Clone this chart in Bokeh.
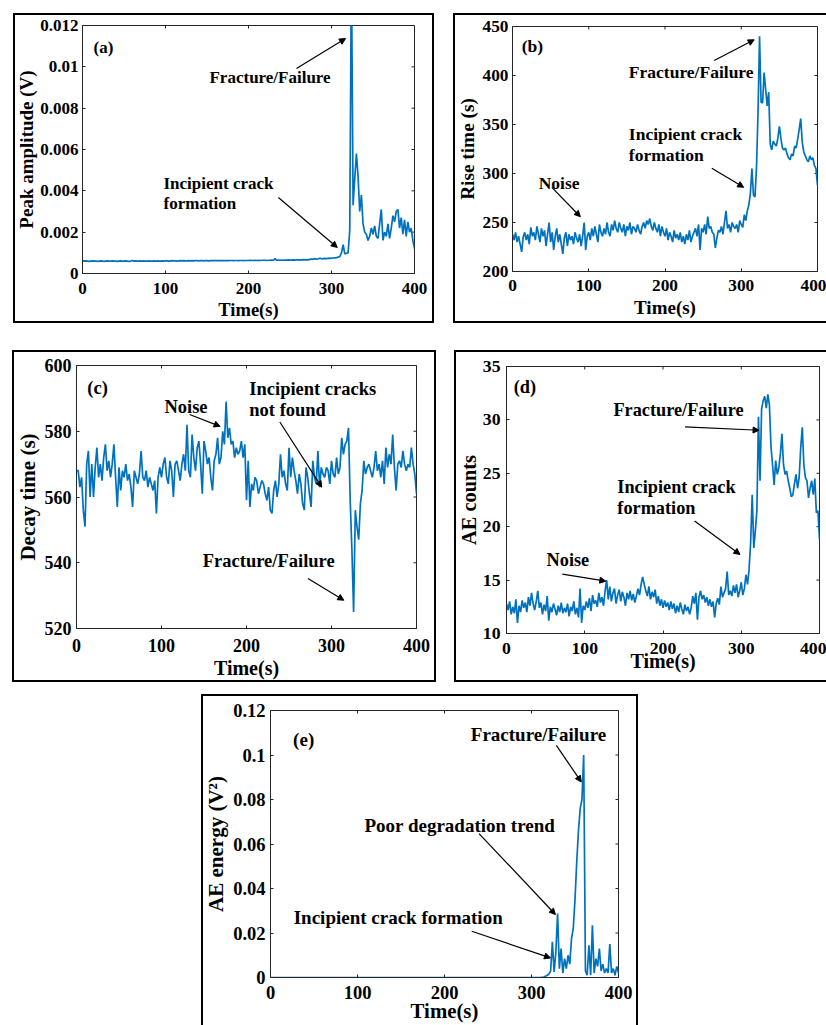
import math
from bokeh.plotting import figure
from bokeh.models import (Range1d, FixedTicker, Label, Arrow, NormalHead, Spacer,
                          PrintfTickFormatter)
from bokeh.layouts import row, column
from bokeh.embed import file_html
from bokeh.resources import INLINE

FONT = "Liberation Serif"
BLUE = "#0072BD"
AXC = "#262626"

# ---------------- data (2 s sampling) ----------------
time_s = list(range(0, 401, 2))

peak_amplitude = [
    0.00062, 0.00060, 0.00061, 0.00060, 0.00059, 0.00060, 0.00061, 0.00060, 0.00060, 0.00059,
    0.00060, 0.00061, 0.00060, 0.00059, 0.00060, 0.00061, 0.00060, 0.00060, 0.00061, 0.00060,
    0.00060, 0.00059, 0.00060, 0.00061, 0.00060, 0.00060, 0.00061, 0.00060, 0.00059, 0.00060,
    0.00063, 0.00060, 0.00061, 0.00060, 0.00060, 0.00061, 0.00060, 0.00061, 0.00060, 0.00060,
    0.00061, 0.00060, 0.00060, 0.00061, 0.00060, 0.00061, 0.00060, 0.00060, 0.00061, 0.00060,
    0.00061, 0.00061, 0.00060, 0.00061, 0.00062, 0.00061, 0.00061, 0.00060, 0.00061, 0.00062,
    0.00061, 0.00062, 0.00061, 0.00061, 0.00062, 0.00061, 0.00062, 0.00061, 0.00062, 0.00062,
    0.00061, 0.00062, 0.00062, 0.00061, 0.00062, 0.00062, 0.00061, 0.00062, 0.00063, 0.00062,
    0.00062, 0.00062, 0.00063, 0.00062, 0.00062, 0.00063, 0.00062, 0.00063, 0.00062, 0.00063,
    0.00063, 0.00062, 0.00063, 0.00063, 0.00062, 0.00063, 0.00063, 0.00062, 0.00063, 0.00063,
    0.00063, 0.00064, 0.00063, 0.00063, 0.00064, 0.00063, 0.00064, 0.00063, 0.00064, 0.00064,
    0.00064, 0.00063, 0.00064, 0.00064, 0.00065, 0.00064, 0.00072, 0.00064, 0.00065, 0.00064,
    0.00065, 0.00064, 0.00065, 0.00065, 0.00066, 0.00065, 0.00065, 0.00066, 0.00065, 0.00066,
    0.00066, 0.00065, 0.00066, 0.00067, 0.00066, 0.00067, 0.00066, 0.00068, 0.00070, 0.00069,
    0.00072, 0.00070, 0.00071, 0.00074, 0.00071, 0.00072, 0.00073, 0.00072, 0.00074, 0.00073,
    0.00074, 0.00075, 0.00076, 0.00077, 0.00079, 0.00082, 0.00100, 0.00140, 0.00095, 0.00098,
    0.00100, 0.00210, 0.01500, 0.00330, 0.00460, 0.00580, 0.00470, 0.00300, 0.00380, 0.00240,
    0.00200, 0.00190, 0.00160, 0.00180, 0.00220, 0.00190, 0.00230, 0.00180, 0.00170, 0.00240,
    0.00310, 0.00160, 0.00200, 0.00180, 0.00240, 0.00170, 0.00220, 0.00280, 0.00250, 0.00300,
    0.00310, 0.00220, 0.00270, 0.00190, 0.00260, 0.00180, 0.00250, 0.00200, 0.00220, 0.00160,
    0.00120,
]

rise_time = [
    238, 232, 240, 230, 236, 228, 220, 235, 240, 232,
    238, 228, 245, 236, 240, 232, 246, 238, 230, 244,
    236, 242, 226, 238, 250, 230, 240, 222, 236, 244,
    230, 238, 228, 218, 234, 240, 226, 238, 232, 236,
    228, 240, 234, 230, 238, 226, 236, 250, 222, 236,
    240, 232, 244, 236, 246, 238, 230, 248, 240, 236,
    244, 238, 250, 240, 236, 248, 242, 252, 244, 240,
    250, 244, 240, 248, 236, 246, 242, 250, 238, 246,
    244, 240, 248, 242, 238, 246, 250, 244, 252, 248,
    254, 246, 242, 250, 244, 240, 248, 236, 246, 240,
    236, 244, 232, 240, 236, 230, 242, 234, 238, 232,
    240, 230, 236, 228, 238, 232, 242, 230, 236, 240,
    244, 236, 248, 222, 244, 240, 248, 238, 256, 244,
    246, 240, 238, 224, 234, 242, 240, 246, 238, 250,
    262, 244, 248, 240, 250, 246, 244, 248, 240, 252,
    248, 245, 258, 252, 262, 268, 280, 305, 278, 276,
    306, 362, 440, 373, 372, 403, 386, 369, 383, 330,
    324, 333, 330, 328, 336, 348, 336, 326, 324, 326,
    320, 316, 314, 320, 318, 328, 326, 335, 345, 356,
    332, 322, 318, 314, 312, 318, 314, 316, 308, 305,
    288,
]

decay_time = [
    568, 568, 563, 566, 556, 551, 570, 574, 560, 570,
    560, 569, 575, 566, 570, 565, 572, 576, 568, 571,
    566, 570, 576, 566, 557, 569, 562, 568, 566, 570,
    565, 567, 563, 557, 568, 566, 564, 567, 574, 566,
    565, 568, 563, 566, 564, 562, 565, 555, 566, 569,
    566, 570, 572, 566, 564, 571, 568, 560, 570, 571,
    568, 565, 570, 573, 568, 582, 568, 566, 579, 572,
    568, 575, 577, 570, 561, 577, 574, 570, 572, 566,
    562, 571, 573, 578, 570, 572, 580, 576, 589, 578,
    581, 576, 577, 572, 575, 573, 574, 577, 572, 576,
    559, 571, 557, 564, 562, 566, 565, 561, 563, 565,
    564, 561, 559, 563, 556, 555, 562, 565, 560, 564,
    573, 566, 568, 564, 562, 575, 566, 572, 568, 565,
    561, 567, 564, 558, 556, 569, 566, 561, 557, 571,
    566, 564, 574, 563, 569, 567, 566, 569, 568, 564,
    571, 567, 566, 572, 567, 569, 578, 573, 576, 577,
    581, 559, 544, 525, 556, 551, 547, 558, 562, 571,
    567, 569, 570, 568, 566, 569, 574, 568, 570, 566,
    571, 564, 575, 569, 573, 570, 579, 569, 562, 570,
    571, 569, 574, 570, 568, 570, 569, 575, 570, 567,
    561,
]

ae_counts = [
    12.8, 12.2, 13.0, 11.8, 12.5, 11.9, 13.2, 11.0, 12.6, 12.0,
    13.1, 12.4, 12.9, 12.0, 13.4, 12.6, 13.8, 12.8, 12.2, 13.0,
    14.0, 12.4, 12.9, 11.8, 12.7, 12.1, 13.5, 11.2, 12.5, 12.0,
    12.8, 12.3, 11.7, 12.6, 12.0, 12.9, 11.9, 12.4, 12.0, 12.8,
    11.6, 12.5, 12.1, 13.0, 11.8, 12.4, 11.5, 14.2, 11.0, 12.6,
    12.2, 13.0, 12.4, 13.3, 12.1, 13.6, 12.8, 13.1, 12.5, 13.8,
    12.9, 13.4, 12.6, 14.0, 15.0, 13.2, 14.4, 13.0, 13.8, 14.2,
    12.8, 13.6, 14.1, 13.0, 13.9, 13.4, 12.6, 13.8, 13.2, 14.0,
    13.1, 13.7, 12.9, 13.5, 14.2, 13.6, 14.6, 15.3, 14.6, 14.0,
    13.5, 14.4, 13.2, 13.9, 13.4, 14.1, 12.8, 13.5, 12.6, 13.2,
    12.4, 13.1, 12.5, 12.9, 12.2, 13.0, 12.3, 12.8, 11.9, 12.6,
    12.0, 12.9, 12.3, 11.8, 12.7, 12.1, 12.5, 11.8, 12.4, 13.5,
    12.8, 13.8, 11.3, 13.4, 14.0, 13.2, 13.6, 12.9, 13.4, 12.6,
    13.2, 12.5, 13.0, 11.5, 12.8, 13.3, 12.7, 14.4, 13.4, 13.8,
    14.2, 15.8, 13.6, 14.0, 13.5, 14.5, 13.8, 14.6, 13.4, 14.0,
    14.8, 13.6, 14.2, 15.5, 14.6, 16.0, 18.5, 23.0, 18.0, 19.6,
    21.5, 30.3, 24.3, 31.0, 31.8, 32.2, 31.1, 32.4, 31.4, 27.5,
    25.8, 23.9, 26.2, 24.9, 25.5, 26.8, 28.7, 25.8, 24.9, 25.2,
    24.3, 23.6, 22.8, 23.0, 24.0, 24.9, 23.6, 24.6, 27.4, 29.3,
    25.8, 24.6, 24.3, 22.7, 23.6, 24.3, 23.0, 24.5, 21.3, 21.5,
    18.8,
]

ae_energy = [
    0.0, 0.0, 0.0, 0.0, 0.0, 0.0, 0.0, 0.0, 0.0, 0.0,
    0.0, 0.0, 0.0, 0.0, 0.0, 0.0, 0.0, 0.0, 0.0, 0.0,
    0.0, 0.0, 0.0, 0.0, 0.0, 0.0, 0.0, 0.0, 0.0, 0.0,
    0.0, 0.0, 0.0, 0.0, 0.0, 0.0, 0.0, 0.0, 0.0, 0.0,
    0.0, 0.0, 0.0, 0.0, 0.0, 0.0, 0.0, 0.0, 0.0, 0.0,
    0.0, 0.0, 0.0, 0.0, 0.0, 0.0, 0.0, 0.0, 0.0, 0.0,
    0.0, 0.0, 0.0, 0.0, 0.0, 0.0, 0.0, 0.0, 0.0, 0.0,
    0.0, 0.0, 0.0, 0.0, 0.0, 0.0, 0.0, 0.0, 0.0, 0.0,
    0.0, 0.0, 0.0, 0.0, 0.0, 0.0, 0.0, 0.0, 0.0, 0.0,
    0.0, 0.0, 0.0, 0.0, 0.0, 0.0, 0.0, 0.0, 0.0, 0.0,
    0.0, 0.0, 0.0, 0.0, 0.0, 0.0, 0.0, 0.0, 0.0, 0.0,
    0.0, 0.0, 0.0, 0.0, 0.0, 0.0, 0.0, 0.0, 0.0, 0.0,
    0.0, 0.0, 0.0, 0.0, 0.0, 0.0, 0.0, 0.0, 0.0, 0.0,
    0.0, 0.0, 0.0, 0.0, 0.0, 0.0, 0.0, 0.0, 0.0, 0.0,
    0.0, 0.0, 0.0, 0.0, 0.0, 0.0, 0.0, 0.0, 0.0, 0.0,
    0.0, 0.0, 0.0, 0.0, 0.0, 0.0, 0.0001, 0.0002, 0.0005, 0.0010,
    0.0015, 0.0030, 0.0160, 0.0025, 0.0115, 0.0287, 0.0040, 0.0130, 0.0020, 0.0085,
    0.0040, 0.0100, 0.0060, 0.0175, 0.0220, 0.0350, 0.0520, 0.0660, 0.0760, 0.0800,
    0.1000, 0.0030, 0.0010, 0.0145, 0.0010, 0.0235, 0.0020, 0.0085, 0.0050, 0.0130,
    0.0030, 0.0060, 0.0020, 0.0040, 0.0020, 0.0150, 0.0020, 0.0040, 0.0010, 0.0050,
    0.0020,
]

x_ticks = [0, 100, 200, 300, 400]
a_ticks = [0, 0.002, 0.004, 0.006, 0.008, 0.01, 0.012]
b_ticks = [200, 250, 300, 350, 400, 450]
c_ticks = [520, 540, 560, 580, 600]
d_ticks = [10, 15, 20, 25, 30, 35]
e_ticks = [0, 0.02, 0.04, 0.06, 0.08, 0.1, 0.12]

SH_FULL = "inset 0 0 0 2px black"
SH_NO_RIGHT = "inset 2px 0 0 0 black, inset 0 2px 0 0 black, inset 0 -2px 0 0 black"
SH_NO_BOTTOM = "inset 2px 0 0 0 black, inset -2px 0 0 0 black, inset 0 2px 0 0 black"

panels = [
    dict(key="a", w=421, h=310, mb=(69, 20, 12, 50), yr=(0, 0.012), yt=a_ticks, y=peak_amplitude,
         ylabel="Peak amplitude (V)", fmt="%g", tick=17, xl=18.5, yl=19, ann=17,
         xstand=(9, 3), ystand=(4, 0), shadow=SH_FULL,
         tag=("(a)", 13.3, 0.01094),
         texts=[("Fracture/Failure", 153, 0.00948), ("Incipient crack", 97.6, 0.00435),
                ("formation", 97.6, 0.00339)],
         arrows=[(257.8, 0.00992, 316.9, 0.01137), (236, 0.00368, 307, 0.00126)]),
    dict(key="b", w=373, h=310, mb=(54, 9, 13, 52), yr=(200, 450), yt=b_ticks, y=rise_time,
         ylabel="Rise time (s)", fmt=None, tick=17.3, xl=19, yl=19.3, ann=17.5,
         xstand=(8, 3), ystand=(4, 2), shadow=SH_NO_RIGHT,
         tag=("(b)", 12, 429.8),
         texts=[("Fracture/Failure", 152.6, 403.3), ("Incipient crack", 152.6, 340.4),
                ("formation", 152.6, 319.3), ("Noise", 34.3, 290)],
         arrows=[(264.5, 415.3, 317, 436.4), (261.4, 305.3, 303.2, 285.9), (51.6, 285.9, 89, 255.9)]),
    dict(key="c", w=424, h=332, mb=(58, 20, 15, 54), yr=(520, 600), yt=c_ticks, y=decay_time,
         ylabel="Decay time (s)", fmt=None, tick=18, xl=20, yl=21, ann=18.5,
         xstand=(10, 2), ystand=(5, 2), shadow=SH_FULL,
         tag=("(c)", 12.7, 593.2),
         texts=[("Noise", 103.4, 587.3), ("Incipient cracks", 203.3, 592.9),
                ("not found", 203.3, 586.5), ("Fracture/Failure", 148.6, 540.5)],
         arrows=[(133.1, 585.1, 169, 581.5), (239.2, 582.8, 288.5, 563), (272.3, 535.2, 314.5, 528.6)]),
    dict(key="d", w=372, h=332, mb=(48, 7, 16, 49), yr=(10, 35), yt=d_ticks, y=ae_counts,
         ylabel="AE counts", fmt=None, tick=17.7, xl=20, yl=20.4, ann=18.3,
         xstand=(9, -7), ystand=(6, 0), shadow=SH_NO_RIGHT,
         tag=("(d)", 9.2, 33.06),
         texts=[("Fracture/Failure", 136.6, 30.9), ("Incipient crack", 141.6, 23.72),
                ("formation", 141.6, 21.72), ("Noise", 51.2, 16.88)],
         arrows=[(228.2, 29.34, 322.8, 29.03), (240.4, 20.53, 298.4, 17.4), (71.4, 15.56, 126.9, 14.9)]),
    dict(key="e", w=437, h=331, mb=(68, 20, 16, 48), yr=(0, 0.12), yt=e_ticks, y=ae_energy,
         ylabel="AE energy (V\u00b2)", fmt="%g", tick=18.5, xl=20.8, yl=21, ann=19,
         xstand=(8, -3), ystand=(5, 2), shadow=SH_NO_BOTTOM,
         tag=("(e)", 26, 0.107),
         texts=[("Fracture/Failure", 230.2, 0.1091), ("Poor degradation trend", 108, 0.0684),
                ("Incipient crack formation", 26.7, 0.0269)],
         arrows=[(328.6, 0.1043, 357.2, 0.0879), (239.7, 0.0647, 327.5, 0.0283), (231.3, 0.0208, 321.8, 0.0088)]),
]


def bold_label(x, y, text, size, align="left"):
    return Label(x=x, y=y, text=text, text_font=FONT, text_font_style="bold",
                 text_font_size=f"{size}px", text_baseline="middle", text_align=align,
                 text_color="black")


def make_panel(c):
    l, r, t, b = c["mb"]
    p = figure(width=c["w"], height=c["h"], x_range=Range1d(0, 400), y_range=Range1d(*c["yr"]),
               output_backend="svg", toolbar_location=None,
               min_border_left=l, min_border_right=r, min_border_top=t, min_border_bottom=b,
               border_fill_color=None, background_fill_color="white",
               outline_line_color=AXC, outline_line_width=1,
               styles={"box-shadow": c["shadow"]})
    try:
        p.frame_align = False
    except AttributeError:
        pass
    p.xgrid.visible = False
    p.ygrid.visible = False
    p.xaxis.ticker = FixedTicker(ticks=x_ticks)
    p.yaxis.ticker = FixedTicker(ticks=c["yt"])
    if c["fmt"]:
        p.yaxis.formatter = PrintfTickFormatter(format=c["fmt"])
    for ax in (p.xaxis[0], p.yaxis[0]):
        ax.major_tick_in = 3
        ax.major_tick_out = 0
        ax.minor_tick_line_color = None
        ax.axis_line_color = AXC
        ax.major_tick_line_color = AXC
        ax.major_label_text_font = FONT
        ax.major_label_text_font_style = "bold"
        ax.major_label_text_font_size = f"{c['tick']}px"
        ax.major_label_text_color = "black"
        ax.axis_label_text_font = FONT
        ax.axis_label_text_font_style = "bold"
        ax.axis_label_text_color = "black"
    xa, ya = p.xaxis[0], p.yaxis[0]
    xa.major_label_standoff, xa.axis_label_standoff = c["xstand"]
    ya.major_label_standoff, ya.axis_label_standoff = c["ystand"]
    ya.axis_label = c["ylabel"]
    ya.axis_label_text_font_size = f"{c['yl']}px"
    xa.axis_label = "Time(s)"
    xa.axis_label_text_font_size = f"{c['xl']}px"

    # mirrored inner ticks on top and right (box on)
    ymax = c["yr"][1]
    p.scatter(x=x_ticks, y=[ymax] * len(x_ticks), marker="dash", size=6, angle=math.pi / 2,
              line_color=AXC, line_width=1)
    p.scatter(x=[400] * len(c["yt"]), y=c["yt"], marker="dash", size=6,
              line_color=AXC, line_width=1)

    p.line(time_s, c["y"], line_color=BLUE, line_width=1.7)

    txt, tx, ty = c["tag"]
    p.add_layout(bold_label(tx, ty, txt, c["ann"]))
    for txt, tx, ty in c["texts"]:
        p.add_layout(bold_label(tx, ty, txt, c["ann"]))
    for x0, y0, x1, y1 in c["arrows"]:
        p.add_layout(Arrow(end=NormalHead(size=6, line_color="black", fill_color="black", line_width=1),
                           x_start=x0, y_start=y0, x_end=x1, y_end=y1,
                           line_color="black", line_width=1.2))
    return p


figs = {c["key"]: make_panel(c) for c in panels}

layout = column(
    Spacer(width=1, height=13),
    row(Spacer(width=13, height=1), figs["a"], Spacer(width=19, height=1), figs["b"]),
    Spacer(width=1, height=27),
    row(Spacer(width=12, height=1), figs["c"], Spacer(width=18, height=1), figs["d"]),
    Spacer(width=1, height=12),
    row(Spacer(width=201, height=1), figs["e"]),
)

open("out.html", "w").write(file_html(layout, INLINE))
